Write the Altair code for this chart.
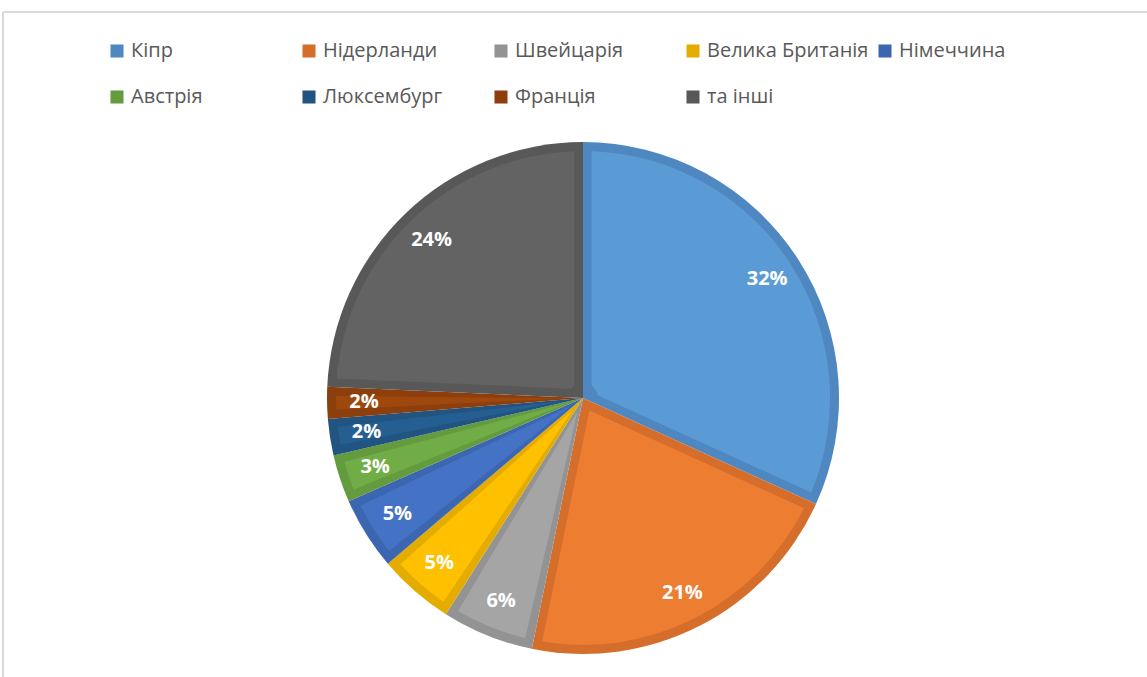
import altair as alt
import pandas as pd

countries = ["Кіпр", "Нідерланди", "Швейцарія", "Велика Британія", "Німеччина",
             "Австрія", "Люксембург", "Франція", "та інші"]
shares = [31.8, 21.4, 5.8, 4.8, 4.6, 3.0, 2.3, 2.0, 24.3]
labels = ["32%", "21%", "6%", "5%", "5%", "3%", "2%", "2%", "24%"]
fill_colors = ["#5B9BD5", "#ED7D31", "#A5A5A5", "#FFC000", "#4472C4",
               "#70AD47", "#255E91", "#9E480E", "#636363"]
edge_colors = ["#4F88C0", "#D46E2A", "#939393", "#E5AC00", "#3C66B0",
               "#639B3E", "#215480", "#8C3F0C", "#585858"]

df = pd.DataFrame({
    "country": countries,
    "share": shares,
    "label": labels,
    "fill": fill_colors,
    "idx": list(range(len(countries))),
})

CX, CY = 580, 386
R = 256

base = alt.Chart(df).encode(
    theta=alt.Theta("share:Q", stack=True),
    order=alt.Order("idx:Q", sort="ascending"),
)

outer = base.mark_arc(outerRadius=R, x=CX, y=CY).encode(
    color=alt.Color(
        "country:N",
        scale=alt.Scale(domain=countries, range=edge_colors),
        sort=countries,
        legend=alt.Legend(
            title=None,
            orient="none",
            legendX=104,
            legendY=29,
            direction="horizontal",
            columns=5,
            gridAlign="all",
            symbolType="square",
            symbolSize=170,
            symbolStrokeWidth=0,
            labelFont="Open Sans",
            labelFontSize=20,
            labelColor="#595959",
            labelOffset=4,
            columnPadding=6,
            rowPadding=26,
            padding=0,
            labelLimit=300,
        ),
    )
)

inner = base.mark_arc(outerRadius=R - 9, innerRadius=15, padAngle=0.07,
                      x=CX, y=CY).encode(
    color=alt.Color("fill:N", scale=None),
)

text = base.mark_text(
    radius=219, x=CX, y=CY, font="Open Sans", fontSize=20,
    fontWeight="bold", color="white"
).encode(text="label:N")

frame_top = alt.Chart(df).mark_rule(color="#D9D9D9", strokeWidth=1).encode(
    x=alt.value(0), x2=alt.value(1150), y=alt.value(0)
)
frame_left = alt.Chart(df).mark_rule(color="#D9D9D9", strokeWidth=1).encode(
    x=alt.value(0), y=alt.value(0), y2=alt.value(700)
)

chart = (
    alt.layer(frame_top, frame_left, outer, inner, text)
    .properties(width=1144, height=665,
                padding={"left": 3, "top": 12, "right": 0, "bottom": 0},
                autosize=alt.AutoSizeParams(type="none"))
    .configure_view(stroke=None)
)

chart.save("out.html", embed_options={"renderer": "svg", "actions": False})
